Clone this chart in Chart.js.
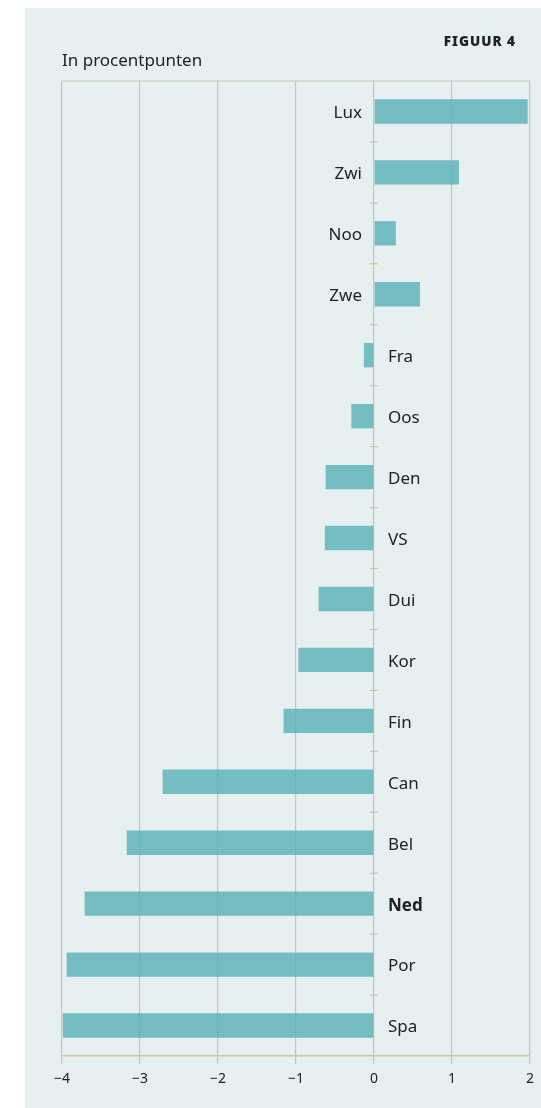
<!DOCTYPE html>
<html>
<head>
<meta charset="utf-8">
<script src="https://cdn.jsdelivr.net/npm/chart.js@4"></script>
<style>
  body { margin: 0; background: #fff; }
  #wrap { position: relative; width: 541px; height: 1108px; }
  #title { position: absolute; left: 62px; top: 48px; font: 17px "Noto Sans", sans-serif; color: #222; }
  #fig { position: absolute; right: 25px; top: 32px; font: 900 13.5px "Noto Sans", sans-serif; letter-spacing: 1px; color: #222; }
</style>
</head>
<body>
<div id="wrap">
  <canvas id="myChart" width="541" height="1108"></canvas>
  <div id="title">In procentpunten</div>
  <div id="fig">FIGUUR 4</div>
</div>
<script>
const countries = ["Lux", "Zwi", "Noo", "Zwe", "Fra", "Oos", "Den", "VS", "Dui", "Kor", "Fin", "Can", "Bel", "Ned", "Por", "Spa"];
const values = [1.97, 1.09, 0.28, 0.59, -0.13, -0.29, -0.62, -0.63, -0.71, -0.97, -1.16, -2.71, -3.17, -3.71, -3.94, -3.99];
const xTicks = [-4, -3, -2, -1, 0, 1, 2];
const highlight = "Ned";

const gridColor = "#d2c3a4";

const panel = {
  id: "panel",
  beforeDraw(chart) {
    const ctx = chart.ctx;
    ctx.save();
    ctx.fillStyle = "#e7f0f1";
    ctx.fillRect(25, 8, chart.width - 25, chart.height - 8);
    ctx.restore();
  },
  afterDraw(chart) {
    const ctx = chart.ctx;
    const a = chart.chartArea;
    const x = chart.scales.x, y = chart.scales.y;
    const x0 = x.getPixelForValue(0);
    ctx.save();
    // frame on top
    ctx.strokeStyle = gridColor;
    ctx.lineWidth = 1.2;
    ctx.beginPath();
    ctx.moveTo(a.left, a.top);
    ctx.lineTo(a.right, a.top);
    ctx.stroke();
    // small ticks on the zero line between categories
    for (let i = 1; i < countries.length; i++) {
      const yy = (y.getPixelForValue(i - 1) + y.getPixelForValue(i)) / 2;
      ctx.beginPath();
      ctx.moveTo(x0 - 4, yy);
      ctx.lineTo(x0 + 4, yy);
      ctx.stroke();
    }
    // category labels next to zero
    ctx.fillStyle = "#222";
    ctx.textBaseline = "middle";
    countries.forEach((c, i) => {
      const yy = y.getPixelForValue(i) + 2;
      ctx.font = (c === highlight ? "bold " : "") + "17px 'Noto Sans', sans-serif";
      if (values[i] >= 0) {
        ctx.textAlign = "right";
        ctx.fillText(c, x0 - 12, yy);
      } else {
        ctx.textAlign = "left";
        ctx.fillText(c, x0 + 14, yy);
      }
    });
    ctx.restore();
  }
};

const config = {
  type: "bar",
  data: {
    labels: countries,
    datasets: [{
      data: values,
      backgroundColor: "rgba(88, 176, 182, 0.8)",
      barPercentage: 0.4,
      categoryPercentage: 1
    }]
  },
  options: {
    indexAxis: "y",
    responsive: false,
    animation: false,
    layout: { padding: { left: 62, right: 10, top: 81, bottom: 20 } },
    scales: {
      x: {
        min: -4,
        max: 2,
        afterBuildTicks: s => { s.ticks = xTicks.map(v => ({ value: v })); },
        afterFit: s => { s.height = 32; },
        grid: { color: gridColor, lineWidth: 1.2, tickLength: 8, drawTicks: true },
        border: { color: gridColor, width: 1.5 },
        ticks: {
          padding: 7,
          color: "#222",
          font: { family: "Noto Sans", size: 14 },
          callback: v => String(v).replace("-", "\u2212")
        }
      },
      y: { display: false }
    },
    plugins: {
      legend: { display: false },
      tooltip: { enabled: false }
    }
  },
  plugins: [panel]
};

const myChart = new Chart(document.getElementById("myChart").getContext("2d"), config);
</script>
</body>
</html>
